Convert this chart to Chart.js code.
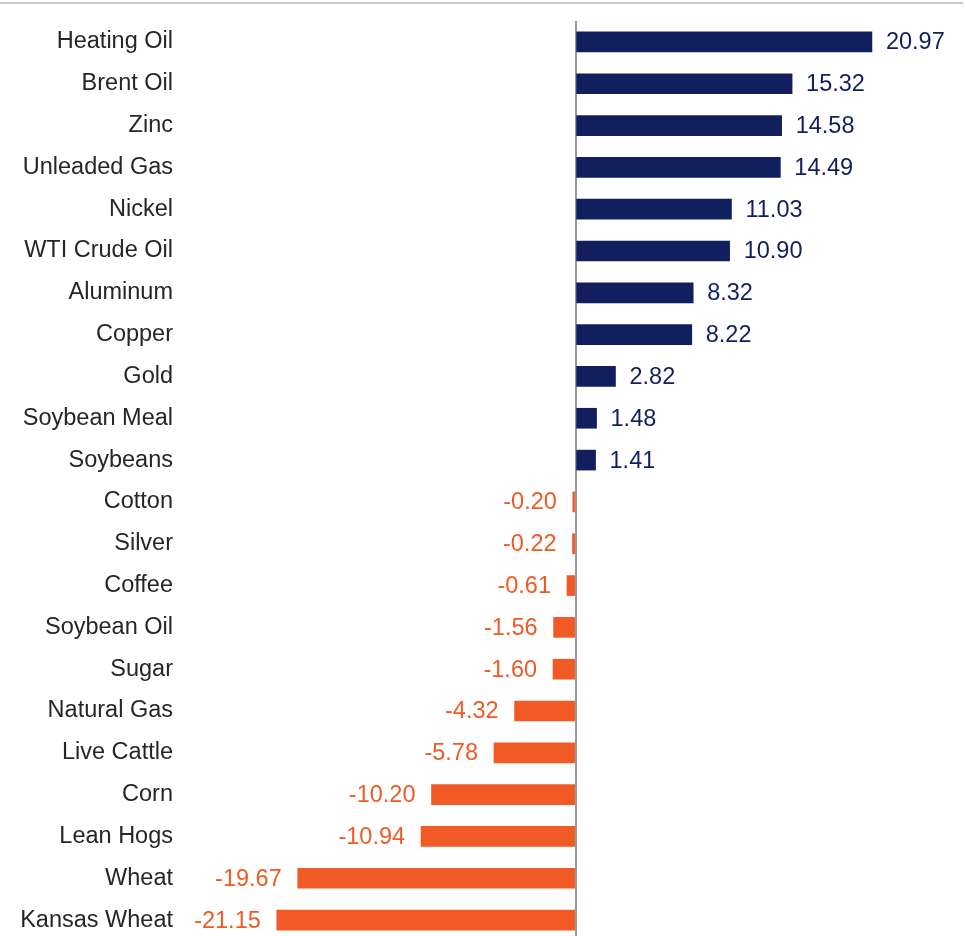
<!DOCTYPE html>
<html>
<head>
<meta charset="utf-8">
<script src="https://cdn.jsdelivr.net/npm/chart.js@4"></script>
<style>
  html, body { margin: 0; padding: 0; background: #fff; overflow: hidden; }
  canvas { display: block; }
</style>
</head>
<body>
<canvas id="commodityChart" width="965" height="941"></canvas>
<script>
// categorie e valori (%)
const categories = [
  "Heating Oil", "Brent Oil", "Zinc", "Unleaded Gas", "Nickel", "WTI Crude Oil",
  "Aluminum", "Copper", "Gold", "Soybean Meal", "Soybeans", "Cotton", "Silver",
  "Coffee", "Soybean Oil", "Sugar", "Natural Gas", "Live Cattle", "Corn",
  "Lean Hogs", "Wheat", "Kansas Wheat"
];
const returns = [
  20.97, 15.32, 14.58, 14.49, 11.03, 10.90, 8.32, 8.22, 2.82, 1.48, 1.41,
  -0.20, -0.22, -0.61, -1.56, -1.60, -4.32, -5.78, -10.20, -10.94, -19.67, -21.15
];
const axisMin = -28;
const axisMax = 26;

const NAVY = "#111f5e";
const ORANGE = "#f15a24";
const FONT = "'Liberation Sans', Arial, sans-serif";

// --- etichette dei valori ---
const valueLabels = {
  id: "valueLabels",
  afterDatasetsDraw(chart) {
    const ctx = chart.ctx;
    const meta = chart.getDatasetMeta(0);
    ctx.save();
    ctx.font = "23.5px " + FONT;
    ctx.textBaseline = "middle";
    meta.data.forEach((bar, i) => {
      const v = returns[i];
      const txt = v.toFixed(2);
      if (v >= 0) {
        ctx.fillStyle = NAVY;
        ctx.textAlign = "left";
        ctx.fillText(txt, bar.x + 14, bar.y + 1);
      } else {
        ctx.fillStyle = ORANGE;
        ctx.textAlign = "right";
        ctx.fillText(txt, bar.x - 16, bar.y + 1);
      }
    });
    ctx.restore();
  }
};

// --- linea grigia in alto ---
const topRule = {
  id: "topRule",
  beforeDraw(chart) {
    const ctx = chart.ctx;
    ctx.save();
    ctx.fillStyle = "#c8c8c8";
    ctx.fillRect(0, 2, 963, 2);
    ctx.restore();
  }
};

new Chart(document.getElementById("commodityChart"), {
  type: "bar",
  data: {
    labels: categories,
    datasets: [{
      data: returns,
      backgroundColor: returns.map(v => v >= 0 ? NAVY : ORANGE),
      barThickness: 20,
      borderWidth: 0
    }]
  },
  options: {
    indexAxis: "y",
    responsive: false,
    animation: false,
    devicePixelRatio: 1,
    layout: { padding: { top: 21, right: 22, bottom: 0, left: 0 } },
    plugins: {
      legend: { display: false },
      tooltip: { enabled: false }
    },
    scales: {
      x: {
        min: axisMin,
        max: axisMax,
        afterFit(scale) { scale.height = 0; },
        ticks: { display: false },
        border: { display: false },
        grid: {
          drawTicks: false,
          lineWidth: 2,
          color: c => c.tick && c.tick.value === 0 ? "#9a9a9a" : "rgba(0,0,0,0)"
        }
      },
      y: {
        afterFit(scale) {
          scale.width = 180;
          scale.paddingTop = 0;
          scale.paddingBottom = 0;
        },
        border: { display: false },
        grid: { display: false, drawTicks: false },
        ticks: {
          padding: 7,
          color: "#262626",
          font: { family: FONT, size: 23.5 }
        }
      }
    }
  },
  plugins: [topRule, valueLabels]
});
</script>
</body>
</html>
